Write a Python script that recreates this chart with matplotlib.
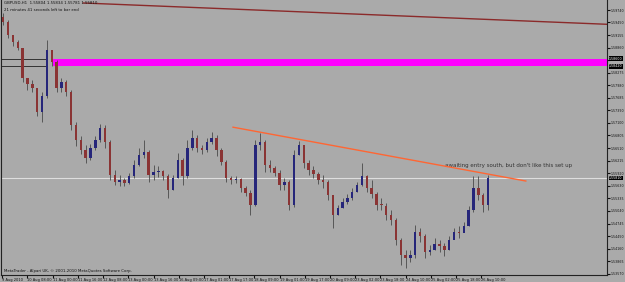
import numpy as np
import matplotlib.pyplot as plt
from matplotlib.patches import Rectangle

# GBPUSD H1 candles (3-hour steps)
first_open = 1.5958
closes = [1.5946, 1.5916, 1.5899, 1.5885, 1.5815, 1.5801, 1.5791, 1.5735, 1.5773, 1.5880,
          1.5852, 1.5791, 1.5806, 1.5782, 1.5705, 1.5670, 1.5646, 1.5628, 1.5651, 1.5670,
          1.5698, 1.5665, 1.5588, 1.5572, 1.5576, 1.5569, 1.5586, 1.5611, 1.5635, 1.5642,
          1.5588, 1.5595, 1.5597, 1.5586, 1.5553, 1.5581, 1.5623, 1.5586, 1.5651, 1.5674,
          1.5651, 1.5646, 1.5665, 1.5674, 1.5646, 1.5618, 1.5581, 1.5576, 1.5578, 1.5557,
          1.5546, 1.5518, 1.5658, 1.5665, 1.5611, 1.5604, 1.5593, 1.5565, 1.5572, 1.5518,
          1.5635, 1.5658, 1.5616, 1.5600, 1.5590, 1.5576, 1.5572, 1.5541, 1.5494, 1.5511,
          1.5525, 1.5534, 1.5548, 1.5565, 1.5586, 1.5557, 1.5544, 1.5518, 1.5516, 1.5494,
          1.5483, 1.5436, 1.5401, 1.5394, 1.5401, 1.5455, 1.5445, 1.5408, 1.5413, 1.5426,
          1.5422, 1.5413, 1.5436, 1.5455, 1.5453, 1.5469, 1.5506, 1.5557, 1.5541, 1.5518,
          1.5581]
highs = [1.5967, 1.5951, 1.5908, 1.5904, 1.5885, 1.5815, 1.5810, 1.5791, 1.5782, 1.5904,
         1.5869, 1.5857, 1.5815, 1.5810, 1.5787, 1.5712, 1.5679, 1.5658, 1.5660, 1.5679,
         1.5707, 1.5705, 1.5670, 1.5600, 1.5588, 1.5581, 1.5593, 1.5623, 1.5651, 1.5670,
         1.5646, 1.5611, 1.5609, 1.5600, 1.5590, 1.5588, 1.5639, 1.5628, 1.5670, 1.5693,
         1.5682, 1.5658, 1.5674, 1.5689, 1.5682, 1.5651, 1.5623, 1.5586, 1.5586, 1.5581,
         1.5562, 1.5553, 1.5670, 1.5686, 1.5670, 1.5623, 1.5609, 1.5600, 1.5581, 1.5576,
         1.5646, 1.5667, 1.5658, 1.5623, 1.5609, 1.5595, 1.5588, 1.5576, 1.5541, 1.5518,
         1.5534, 1.5544, 1.5557, 1.5572, 1.5616, 1.5588, 1.5576, 1.5548, 1.5534, 1.5522,
         1.5506, 1.5487, 1.5441, 1.5413, 1.5413, 1.5471, 1.5464, 1.5450, 1.5424, 1.5441,
         1.5436, 1.5429, 1.5445, 1.5464, 1.5469, 1.5478, 1.5515, 1.5586, 1.5586, 1.5546,
         1.5588]
lows = [1.5939, 1.5908, 1.5890, 1.5880, 1.5806, 1.5787, 1.5782, 1.5726, 1.5712, 1.5768,
        1.5843, 1.5782, 1.5782, 1.5773, 1.5693, 1.5656, 1.5637, 1.5616, 1.5623, 1.5646,
        1.5665, 1.5651, 1.5576, 1.5565, 1.5562, 1.5562, 1.5567, 1.5581, 1.5609, 1.5628,
        1.5572, 1.5576, 1.5583, 1.5576, 1.5534, 1.5553, 1.5581, 1.5565, 1.5581, 1.5646,
        1.5642, 1.5637, 1.5642, 1.5660, 1.5632, 1.5611, 1.5572, 1.5567, 1.5569, 1.5548,
        1.5539, 1.5494, 1.5515, 1.5646, 1.5595, 1.5595, 1.5586, 1.5553, 1.5553, 1.5506,
        1.5513, 1.5635, 1.5604, 1.5588, 1.5581, 1.5567, 1.5557, 1.5530, 1.5464, 1.5494,
        1.5511, 1.5520, 1.5530, 1.5548, 1.5562, 1.5548, 1.5534, 1.5506, 1.5506, 1.5483,
        1.5471, 1.5424, 1.5377, 1.5370, 1.5384, 1.5394, 1.5431, 1.5394, 1.5401, 1.5413,
        1.5408, 1.5398, 1.5413, 1.5441, 1.5441, 1.5455, 1.5469, 1.5501, 1.5530, 1.5501,
        1.5506]

# the 1.58565 level sits under the zone price boxes, so its label is not shown
price_ticks = [1.59740, 1.59450, 1.59155, 1.58860, 1.58565, 1.58275, 1.57980,
               1.57685, 1.57390, 1.57100, 1.56805, 1.56510, 1.56215, 1.55920,
               1.55630, 1.55335, 1.55040, 1.54745, 1.54450, 1.54160, 1.53865,
               1.53570]
price_labels = ['1.59740', '1.59450', '1.59155', '1.58860', '', '1.58275', '1.57980',
                '1.57685', '1.57390', '1.57100', '1.56805', '1.56510', '1.56215', '1.55920',
                '1.55630', '1.55335', '1.55040', '1.54745', '1.54450', '1.54160', '1.53865',
                '1.53570']
time_ticks = ['9 Aug 2010', '10 Aug 08:00', '11 Aug 00:00', '11 Aug 16:00', '12 Aug 08:00',
              '13 Aug 00:00', '13 Aug 16:00', '16 Aug 09:00', '17 Aug 01:00', '17 Aug 17:00',
              '18 Aug 09:00', '19 Aug 01:00', '19 Aug 17:00', '20 Aug 09:00', '23 Aug 02:00',
              '23 Aug 18:00', '24 Aug 10:00', '25 Aug 02:00', '25 Aug 18:00', '26 Aug 10:00']

current_price = 1.55810
zone = [1.58420, 1.58600]          # magenta supply zone
zone_start = 10.3
red_line_x = [16.5, 125.6]
red_line_y = [1.59904, 1.59401]
trend_x = [47.4, 107.8]
trend_y = [1.56999, 1.55740]

bg = '#aaaaaa'
ink = '#111111'
small = 2.3

fig = plt.figure(figsize=(6.25, 2.82), dpi=100)
fig.patch.set_facecolor(bg)
ax = fig.add_axes([0.002, 7 / 282, 606 / 625, 275 / 282])
ax.set_facecolor(bg)

x = np.arange(len(closes))
opens = np.array([first_open] + closes[:-1])
closes = np.array(closes)
up = closes >= opens

ax.vlines(x, lows, highs, color='#4a4a4a', lw=0.6, zorder=3)
body = np.where(np.abs(closes - opens) < 0.0002, 0.0002, closes - opens)
ax.bar(x[up], body[up], bottom=opens[up], width=0.5, color='#26267a', zorder=4)
ax.bar(x[~up], body[~up], bottom=opens[~up], width=0.5, color='#8a3434', zorder=4)

# chart objects
ax.add_patch(Rectangle((zone_start, zone[0]), 200, zone[1] - zone[0],
                       facecolor='#ff00ff', edgecolor='none', zorder=2))
ax.hlines(zone, -1, zone_start - 1.5, color='#202020', lw=0.6, zorder=2)
ax.plot(red_line_x, red_line_y, color='#8b2a2a', lw=1.0, zorder=2)
ax.plot(trend_x, trend_y, color='#ff6633', lw=1.0, zorder=5)
ax.axhline(current_price, color='#dedede', lw=0.8, zorder=1)

ax.set_xlim(-0.41, 124.6)
ax.set_ylim(1.53542, 1.59974)

ax.yaxis.tick_right()
ax.set_yticks(price_ticks)
ax.set_yticklabels(price_labels)
ax.tick_params(axis='y', labelsize=small, length=2, pad=0.5, colors=ink)
ax.set_xticks(np.arange(len(time_ticks)) * 5.2 - 0.2)
ax.set_xticklabels(time_ticks, ha='left')
ax.tick_params(axis='x', labelsize=2.6, length=2, pad=0.3, colors=ink)

for lbl, val in [('1.58600', zone[1]), ('1.58420', zone[0]), ('1.55810', current_price)]:
    ax.text(1.003, val, lbl, transform=ax.get_yaxis_transform(), fontsize=small,
            color='white', va='center', ha='left',
            bbox=dict(boxstyle='square,pad=0.1', fc='black', ec='none'), clip_on=False)

ax.spines['top'].set_visible(False)
for s in ['left', 'right', 'bottom']:
    ax.spines[s].set_color('#222222')
    ax.spines[s].set_linewidth(0.8)

ax.text(0.005, 0.995, 'GBPUSD,H1  1.55804 1.55834 1.55781 1.55810', transform=ax.transAxes,
        fontsize=2.8, va='top', ha='left', color=ink)
ax.text(0.005, 0.972, '21 minutes 41 seconds left to bar end', transform=ax.transAxes,
        fontsize=2.8, va='top', ha='left', color=ink)
ax.text(0.005, 0.006, 'MetaTrader - Alpari UK, \u00a9 2001-2010 MetaQuotes Software Corp.',
        transform=ax.transAxes, fontsize=2.8, va='bottom', ha='left', color=ink)
ax.text(91.2, 1.5611, "awaiting entry south, but don't like this set up",
        fontsize=4.0, color='#333333', va='center', ha='left')

fig.savefig('out.png', dpi=100, facecolor=bg)
